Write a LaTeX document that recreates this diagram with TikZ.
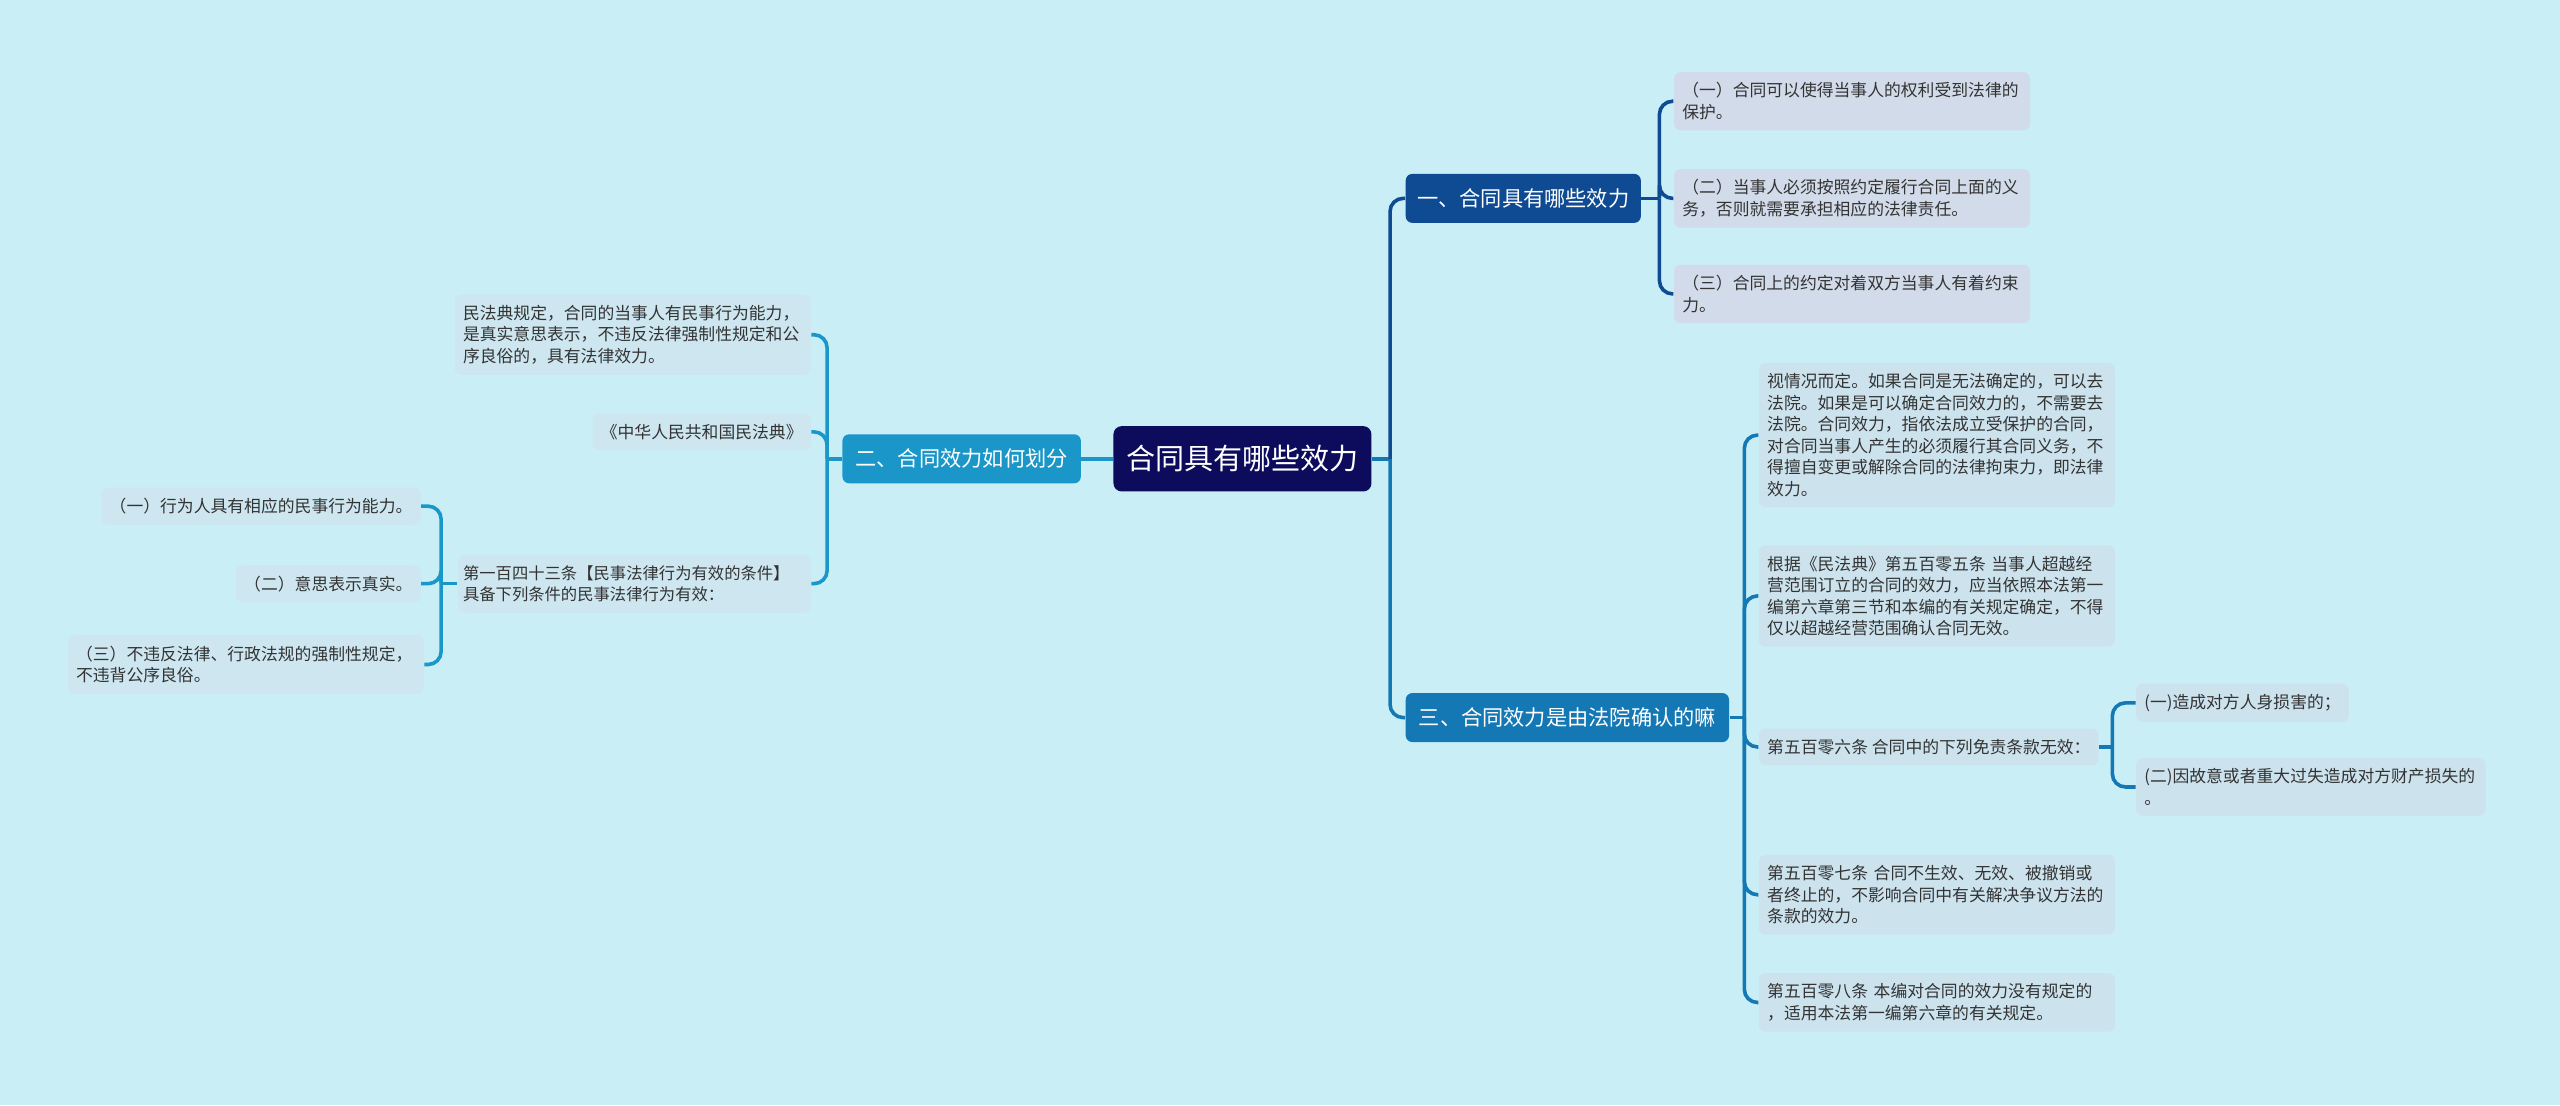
\documentclass[tikz,border=0pt]{standalone}
\usepackage{fontspec}
\setmainfont{Noto Sans CJK SC}
\usetikzlibrary{positioning}

\definecolor{bgcyan}{HTML}{C9EEF6}
\definecolor{rootnavy}{HTML}{0C0B5C}
\definecolor{branchA}{HTML}{0F4B93}
\definecolor{branchB}{HTML}{1A97C8}
\definecolor{branchC}{HTML}{1478B5}
\definecolor{leafA}{HTML}{D2DBE9}
\definecolor{leafB}{HTML}{CDE6F0}
\definecolor{leafC}{HTML}{CCE3EE}

\begin{document}
\begin{tikzpicture}[x=0.5pt, y=-0.5pt,
  leaf/.style={fill=#1, rounded corners=2pt, inner xsep=2.5pt, inner ysep=3.2pt,
               align=left, text=black!80, font=\fontsize{5.15pt}{6.6pt}\selectfont},
  branch/.style={fill=#1, rounded corners=2pt, text=white, minimum height=15pt,
                 inner xsep=3.5pt, font=\fontsize{6.5pt}{7pt}\selectfont},
  link/.style={draw=#1, line width=1.1pt, rounded corners=4pt},
]

% Canvas
\fill[bgcyan] (0,0) rectangle (1568,677);
\useasboundingbox (0,0) rectangle (1568,677);

% Central topic
\node[fill=rootnavy, rounded corners=2.5pt, text=white, minimum width=79pt,
      minimum height=20pt, font=\fontsize{8.9pt}{10pt}\selectfont]
  (root) at (761,281) {合同具有哪些效力};

% Main branches
\node[branch=branchA, minimum width=72pt] (b1) at (933,121.5) {一、合同具有哪些效力};
\node[branch=branchB, minimum width=73pt] (b2) at (589,281) {二、合同效力如何划分};
\node[branch=branchC, minimum width=99pt] (b3) at (960,439.5) {三、合同效力是由法院确认的嘛};

% Branch 1 leaves
\node[leaf=leafA, text width=104pt, anchor=west] (b1a) at (1025,62)
  {（一）合同可以使得当事人的权利受到法律的\\保护。};
\node[leaf=leafA, text width=104pt, anchor=west] (b1b) at (1025,121.5)
  {（二）当事人必须按照约定履行合同上面的义\\务，否则就需要承担相应的法律责任。};
\node[leaf=leafA, text width=104pt, anchor=west] (b1c) at (1025,180)
  {（三）合同上的约定对着双方当事人有着约束\\力。};

% Branch 2 leaves (left side)
\node[leaf=leafB, text width=104pt, anchor=east] (b2a) at (497,205)
  {民法典规定，合同的当事人有民事行为能力，\\是真实意思表示，不违反法律强制性规定和公\\序良俗的，具有法律效力。};
\node[leaf=leafB, anchor=east] (b2b) at (497,264.5) {《中华人民共和国民法典》};
\node[leaf=leafB, text width=105pt, inner xsep=1.5pt, anchor=east,
      font=\fontsize{5pt}{6.6pt}\selectfont] (b2c) at (497,357.5)
  {第一百四十三条【民事法律行为有效的条件】\\具备下列条件的民事法律行为有效：};

% Conditions under article 143
\node[leaf=leafB, anchor=east] (c1) at (258,310) {（一）行为人具有相应的民事行为能力。};
\node[leaf=leafB, anchor=east] (c2) at (258,357.5) {（二）意思表示真实。};
\node[leaf=leafB, text width=104pt, anchor=east] (c3) at (260,407)
  {（三）不违反法律、行政法规的强制性规定，\\不违背公序良俗。};

% Branch 3 leaves
\node[leaf=leafC, text width=104pt, anchor=west] (b3a) at (1077,266.5)
  {视情况而定。如果合同是无法确定的，可以去\\法院。如果是可以确定合同效力的，不需要去\\法院。合同效力，指依法成立受保护的合同，\\对合同当事人产生的必须履行其合同义务，不\\得擅自变更或解除合同的法律拘束力，即法律\\效力。};
\node[leaf=leafC, text width=104pt, anchor=west] (b3b) at (1077,365)
  {根据《民法典》第五百零五条 当事人超越经\\营范围订立的合同的效力，应当依照本法第一\\编第六章第三节和本编的有关规定确定，不得\\仅以超越经营范围确认合同无效。};
\node[leaf=leafC, anchor=west] (b3c) at (1077,457.5) {第五百零六条 合同中的下列免责条款无效：};
\node[leaf=leafC, text width=104pt, anchor=west] (b3d) at (1077,548)
  {第五百零七条 合同不生效、无效、被撤销或\\者终止的，不影响合同中有关解决争议方法的\\条款的效力。};
\node[leaf=leafC, text width=104pt, anchor=west] (b3e) at (1077,614)
  {第五百零八条 本编对合同的效力没有规定的\\，适用本法第一编第六章的有关规定。};

% Exemption clauses under article 506
\node[leaf=leafC, minimum width=64.5pt, anchor=west] (d1) at (1308,430.5) {(一)造成对方人身损害的；};
\node[leaf=leafC, text width=102pt, anchor=west] (d2) at (1308,482)
  {(二)因故意或者重大过失造成对方财产损失的\\。};

% Junction points
\coordinate[right=5.5pt of root.east] (rs);
\coordinate[right=5.5pt of b1.east] (b1s);
\coordinate[left=4.5pt of b2.west] (b2s);
\coordinate[left=5pt of b2c.west] (b2cs);
\coordinate[right=4.5pt of b3.east] (b3s);
\coordinate[right=4pt of b3c.east] (b3cs);

% Root connectors
\draw[link=branchB] (root.west) -- (b2.east);
\draw[link=branchC] (root.east) -- (rs);
\draw[link=branchA] (rs) |- (b1.west);
\draw[link=branchC] (rs) |- (b3.west);

% Branch 1 connectors
\draw[link=branchA] (b1.east) -- (b1s);
\foreach \n in {b1a,b1b,b1c}
  \draw[link=branchA] (b1s) |- (\n.west);

% Branch 2 connectors
\draw[link=branchB] (b2.west) -- (b2s);
\foreach \n in {b2a,b2b,b2c}
  \draw[link=branchB] (b2s) |- (\n.east);
\draw[link=branchB] (b2c.west) -- (b2cs);
\foreach \n in {c1,c2,c3}
  \draw[link=branchB] (b2cs) |- (\n.east);

% Branch 3 connectors
\draw[link=branchC] (b3.east) -- (b3s);
\foreach \n in {b3a,b3b,b3c,b3d,b3e}
  \draw[link=branchC] (b3s) |- (\n.west);
\draw[link=branchC] (b3c.east) -- (b3cs);
\foreach \n in {d1,d2}
  \draw[link=branchC] (b3cs) |- (\n.west);

\end{tikzpicture}
\end{document}
